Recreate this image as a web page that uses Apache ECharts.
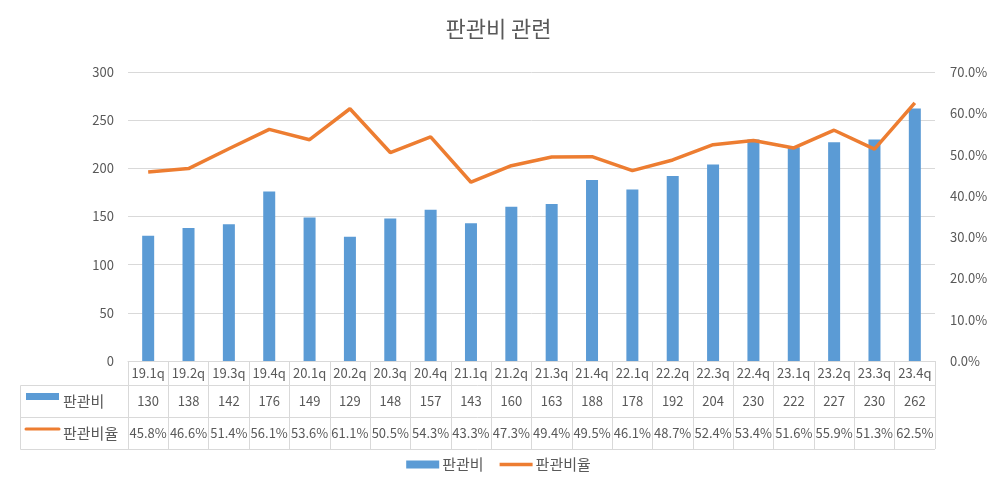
<!DOCTYPE html>
<html><head><meta charset="utf-8">
<script src="https://cdn.jsdelivr.net/npm/echarts@6/dist/echarts.min.js"></script>
<style>html,body{margin:0;padding:0;background:#fff}#c{width:997px;height:489px}</style>
</head><body><div id="c"></div>
<script>
const categories = ['19.1q','19.2q','19.3q','19.4q','20.1q','20.2q','20.3q','20.4q','21.1q','21.2q','21.3q','21.4q','22.1q','22.2q','22.3q','22.4q','23.1q','23.2q','23.3q','23.4q'];
const expense = [130,138,142,176,149,129,148,157,143,160,163,188,178,192,204,230,222,227,230,262];
const ratio = [45.8,46.6,51.4,56.1,53.6,61.1,50.5,54.3,43.3,47.3,49.4,49.5,46.1,48.7,52.4,53.4,51.6,55.9,51.3,62.5];
const seriesNames = ['판관비','판관비율'];
const titleText = '판관비 관련';

const FONT = '"Noto Sans CJK KR", "Noto Sans", sans-serif';
const TXT = '#595959';
const GRID = '#d9d9d9';
const BLUE = '#5B9BD5';
const ORANGE = '#ED7D31';
const L = 128, R = 935, TOP = 72, BOT = 361;

const chart = echarts.init(document.getElementById('c'), null, {renderer:'canvas'});
function xa(margin, fmt, show) {
  return {
    type:'category', data:categories, position:'bottom', gridIndex:0,
    boundaryGap:true,
    axisLine:{show:show, lineStyle:{color:GRID, width:1}},
    axisTick:{show:show, interval:0, alignWithLabel:false, length:88, lineStyle:{color:GRID, width:1}},
    axisLabel:{interval:0, margin:margin, verticalAlign:'middle', color:TXT, fontSize:13, fontFamily:FONT, formatter:fmt},
    splitLine:{show:false}
  };
}
const option = {
  animation:false,
  textStyle:{fontFamily:FONT},
  title:{text:titleText, left:'center', top:13, textStyle:{color:TXT, fontSize:22, fontWeight:'normal', fontFamily:FONT}},
  grid:{left:L, right:997-R, top:TOP, bottom:489-BOT, containLabel:false},
  legend:{
    bottom:12, left:'center', itemWidth:33, itemHeight:8, itemGap:16, symbolKeepAspect:true,
    textStyle:{color:TXT, fontSize:15, fontFamily:FONT, padding:[0,0,0,-2]},
    data:[{name:seriesNames[0], icon:'rect'}, {name:seriesNames[1], icon:'path://M0,0L33,0L33,3.5L0,3.5Z'}]
  },
  xAxis:[
    xa(12, v => v, true),
    xa(40, (v, i) => String(expense[i]), false),
    xa(72, (v, i) => ratio[i].toFixed(1) + '%', false)
  ],
  yAxis:[
    {type:'value', min:0, max:300, interval:50,
     axisLine:{show:false}, axisTick:{show:false},
     axisLabel:{color:TXT, fontSize:13, fontFamily:FONT, margin:14},
     splitLine:{lineStyle:{color:GRID, width:1}}},
    {type:'value', min:0, max:70, interval:10,
     axisLine:{show:false}, axisTick:{show:false},
     axisLabel:{color:TXT, fontSize:13, fontFamily:FONT, margin:15, formatter:v => v.toFixed(1) + '%'},
     splitLine:{show:false}}
  ],
  series:[
    {name:seriesNames[0], type:'bar', xAxisIndex:0, yAxisIndex:0, data:expense, barWidth:12,
     itemStyle:{color:BLUE}},
    {name:seriesNames[1], type:'line', xAxisIndex:0, yAxisIndex:1, data:ratio,
     symbol:'none', lineStyle:{color:ORANGE, width:3.5}, itemStyle:{color:ORANGE}, z:5}
  ],
  graphic:[
    {type:'line', shape:{x1:20.5, y1:385.5, x2:R, y2:385.5}, style:{stroke:GRID, lineWidth:1}},
    {type:'line', shape:{x1:20.5, y1:417.5, x2:R, y2:417.5}, style:{stroke:GRID, lineWidth:1}},
    {type:'line', shape:{x1:20.5, y1:449.5, x2:R, y2:449.5}, style:{stroke:GRID, lineWidth:1}},
    {type:'line', shape:{x1:20.5, y1:385.5, x2:20.5, y2:449.5}, style:{stroke:GRID, lineWidth:1}},
    {type:'line', shape:{x1:L+0.5, y1:361, x2:L+0.5, y2:449.5}, style:{stroke:GRID, lineWidth:1}},
    {type:'rect', shape:{x:26, y:393, width:33, height:7}, style:{fill:BLUE}},
    {type:'text', x:63, y:401, style:{text:seriesNames[0], fill:TXT, font:'15px ' + FONT, verticalAlign:'middle'}},
    {type:'line', shape:{x1:26, y1:429, x2:59, y2:429}, style:{stroke:ORANGE, lineWidth:3, lineCap:'round'}},
    {type:'text', x:63, y:433, style:{text:seriesNames[1], fill:TXT, font:'15px ' + FONT, verticalAlign:'middle'}}
  ]
};
chart.setOption(option);
</script></body></html>
